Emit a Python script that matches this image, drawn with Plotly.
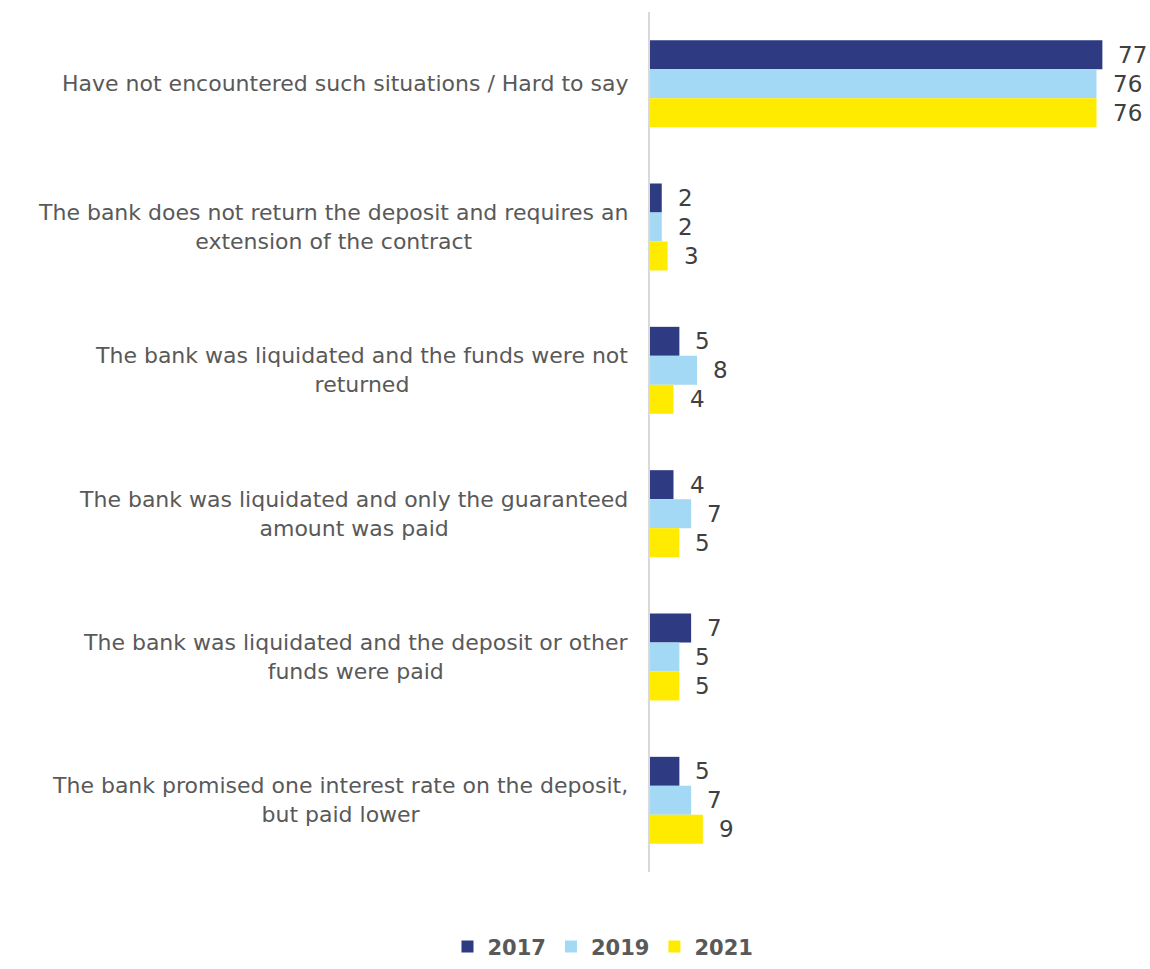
import plotly.graph_objects as go

categories = [
    "Have not encountered such situations / Hard to say",
    "The bank does not return the deposit and requires an<br>extension of the contract",
    "The bank was liquidated and the funds were not<br>returned",
    "The bank was liquidated and only the guaranteed<br>amount was paid",
    "The bank was liquidated and the deposit or other<br>funds were paid",
    "The bank promised one interest rate on the deposit,<br>but paid lower",
]
years = ["2017", "2019", "2021"]
values_2017 = [77, 2, 5, 4, 7, 5]
values_2019 = [76, 2, 8, 7, 5, 7]
values_2021 = [76, 3, 4, 5, 5, 9]
series = [values_2017, values_2019, values_2021]
colors = ["#2E3A82", "#A3D9F5", "#FFEB00"]

FONT = "'DejaVu Sans', sans-serif"
bargap = 0.393
bar_w = (1 - bargap) / len(years)

idx = list(range(len(categories)))
fig = go.Figure()
for name, vals, col in zip(years, series, colors):
    fig.add_trace(go.Bar(
        y=idx, x=vals, name=name, orientation="h",
        marker=dict(color=col, line=dict(width=0)),
    ))

annotations = []
# value labels placed just beyond each bar end
for k, vals in enumerate(series):
    off = (k - 1) * bar_w
    for i, v in enumerate(vals):
        annotations.append(dict(
            x=v, y=i + off, xref="x", yref="y", text=str(v),
            showarrow=False, xanchor="left", yanchor="middle", xshift=14,
            font=dict(family=FONT, size=23, color="#404040"),
        ))
# category labels, centred line-by-line, block flush against the axis
for i, c in enumerate(categories):
    annotations.append(dict(
        x=0, y=i, xref="paper", yref="y", text=c, showarrow=False,
        xanchor="right", yanchor="middle", align="center", xshift=-20,
        font=dict(family=FONT, size=22, color="#595959"),
    ))

fig.update_layout(
    width=1150, height=969,
    margin=dict(l=650, r=30, t=12, b=97, autoexpand=False),
    paper_bgcolor="white", plot_bgcolor="white",
    barmode="group", bargap=bargap, bargroupgap=0,
    font=dict(family=FONT, color="#595959"),
    xaxis=dict(range=[0, 80], visible=False, showgrid=False, zeroline=False),
    yaxis=dict(
        range=[len(categories) - 0.5, -0.5], showticklabels=False,
        showgrid=False, zeroline=False, showline=True,
        linecolor="#D9D9D9", linewidth=2, ticks="",
    ),
    showlegend=True,
    legend=dict(
        orientation="h", x=-0.1, xanchor="center", y=-0.111, yanchor="bottom",
        font=dict(family="'DejaVu Sans', sans-serif", size=21, color="#595959",
                  weight="bold"),
        traceorder="normal", itemwidth=30,
    ),
    annotations=annotations,
)

fig.write_html("out.html")
